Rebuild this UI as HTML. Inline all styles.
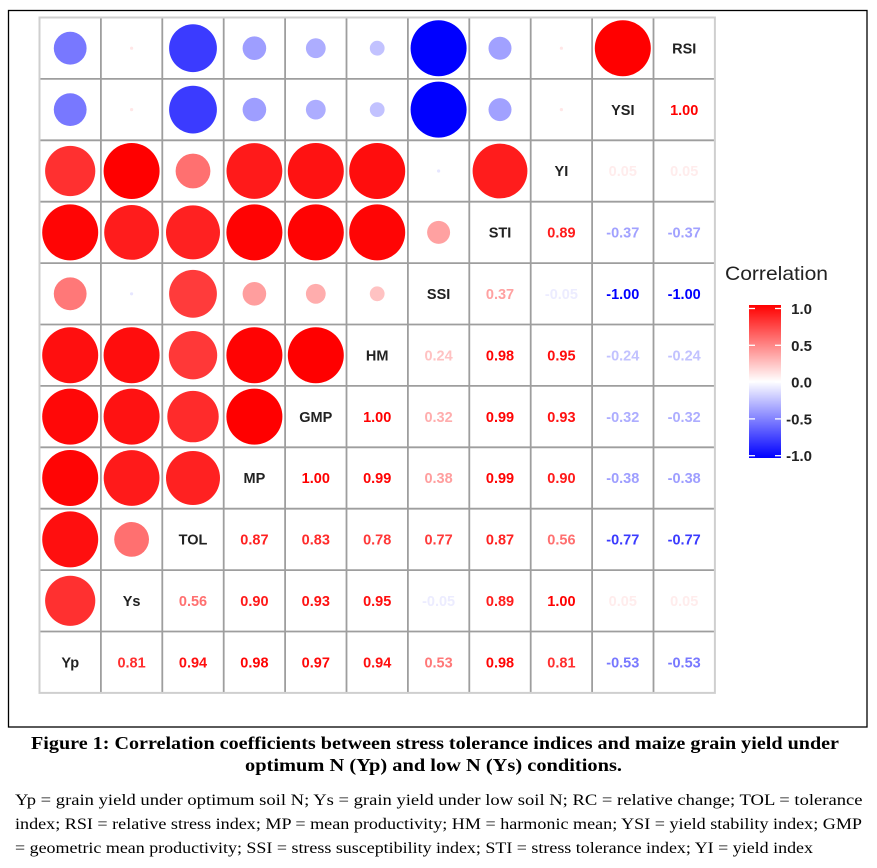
<!DOCTYPE html>
<html><head><meta charset="utf-8"><style>
html,body{margin:0;padding:0;background:#fff;}
svg{display:block;}
.n{font-family:"Liberation Sans",Arial,sans-serif;font-size:14.5px;font-weight:bold;text-anchor:middle;}
.l{font-family:"Liberation Sans",Arial,sans-serif;font-size:14.5px;font-weight:bold;text-anchor:middle;fill:#222;}
.t{font-family:"Liberation Sans",Arial,sans-serif;font-size:15px;font-weight:bold;text-anchor:end;fill:#222;}
.cap{font-family:"Liberation Serif","Times New Roman",serif;font-size:18px;font-weight:bold;fill:#000;}
.body{font-family:"Liberation Serif","Times New Roman",serif;font-size:16px;fill:#000;}
</style></head><body>
<svg width="877" height="868" viewBox="0 0 877 868" xmlns="http://www.w3.org/2000/svg">
<defs>
<linearGradient id="cb" x1="0" y1="0" x2="0" y2="1">
<stop offset="0" stop-color="#ff0000"/>
<stop offset="0.5" stop-color="#ffffff"/>
<stop offset="1" stop-color="#0000ff"/>
</linearGradient>
</defs>
<rect x="0" y="0" width="877" height="868" fill="#fff"/>
<rect x="8.5" y="10.5" width="858.5" height="716.5" fill="none" stroke="#000" stroke-width="1.3"/>

<!-- grid -->
<g stroke="#9e9e9e" stroke-width="1.8">
<line x1="100.9" y1="17.5" x2="100.9" y2="692.9"/>
<line x1="162.3" y1="17.5" x2="162.3" y2="692.9"/>
<line x1="223.7" y1="17.5" x2="223.7" y2="692.9"/>
<line x1="285.1" y1="17.5" x2="285.1" y2="692.9"/>
<line x1="346.5" y1="17.5" x2="346.5" y2="692.9"/>
<line x1="407.9" y1="17.5" x2="407.9" y2="692.9"/>
<line x1="469.3" y1="17.5" x2="469.3" y2="692.9"/>
<line x1="530.7" y1="17.5" x2="530.7" y2="692.9"/>
<line x1="592.1" y1="17.5" x2="592.1" y2="692.9"/>
<line x1="653.5" y1="17.5" x2="653.5" y2="692.9"/>
<line x1="39.5" y1="78.9" x2="714.9" y2="78.9"/>
<line x1="39.5" y1="140.3" x2="714.9" y2="140.3"/>
<line x1="39.5" y1="201.7" x2="714.9" y2="201.7"/>
<line x1="39.5" y1="263.1" x2="714.9" y2="263.1"/>
<line x1="39.5" y1="324.5" x2="714.9" y2="324.5"/>
<line x1="39.5" y1="385.9" x2="714.9" y2="385.9"/>
<line x1="39.5" y1="447.3" x2="714.9" y2="447.3"/>
<line x1="39.5" y1="508.7" x2="714.9" y2="508.7"/>
<line x1="39.5" y1="570.1" x2="714.9" y2="570.1"/>
<line x1="39.5" y1="631.5" x2="714.9" y2="631.5"/>
</g>
<rect x="39.5" y="17.5" width="675.4" height="675.4" fill="none" stroke="#cfcfcf" stroke-width="2"/>

<!-- circles -->
<circle cx="70.2" cy="600.8" r="25.1" fill="rgb(255,48,48)"/>
<circle cx="70.2" cy="539.4" r="28" fill="rgb(255,15,15)"/>
<circle cx="131.6" cy="539.4" r="17.4" fill="rgb(255,112,112)"/>
<circle cx="70.2" cy="478" r="28" fill="rgb(255,5,5)"/>
<circle cx="131.6" cy="478" r="27.9" fill="rgb(255,26,26)"/>
<circle cx="193" cy="478" r="27" fill="rgb(255,33,33)"/>
<circle cx="70.2" cy="416.6" r="28" fill="rgb(255,8,8)"/>
<circle cx="131.6" cy="416.6" r="28" fill="rgb(255,18,18)"/>
<circle cx="193" cy="416.6" r="25.7" fill="rgb(255,43,43)"/>
<circle cx="254.4" cy="416.6" r="28" fill="rgb(255,0,0)"/>
<circle cx="70.2" cy="355.2" r="28" fill="rgb(255,15,15)"/>
<circle cx="131.6" cy="355.2" r="28" fill="rgb(255,13,13)"/>
<circle cx="193" cy="355.2" r="24.2" fill="rgb(255,56,56)"/>
<circle cx="254.4" cy="355.2" r="28" fill="rgb(255,3,3)"/>
<circle cx="315.8" cy="355.2" r="28" fill="rgb(255,0,0)"/>
<circle cx="70.2" cy="293.8" r="16.4" fill="rgb(255,120,120)"/>
<circle cx="131.6" cy="293.8" r="1.6" fill="rgb(230,230,255)"/>
<circle cx="193" cy="293.8" r="23.9" fill="rgb(255,59,59)"/>
<circle cx="254.4" cy="293.8" r="11.8" fill="rgb(255,158,158)"/>
<circle cx="315.8" cy="293.8" r="9.9" fill="rgb(255,173,173)"/>
<circle cx="377.2" cy="293.8" r="7.4" fill="rgb(255,194,194)"/>
<circle cx="70.2" cy="232.4" r="28" fill="rgb(255,5,5)"/>
<circle cx="131.6" cy="232.4" r="27.4" fill="rgb(255,28,28)"/>
<circle cx="193" cy="232.4" r="27" fill="rgb(255,33,33)"/>
<circle cx="254.4" cy="232.4" r="28" fill="rgb(255,3,3)"/>
<circle cx="315.8" cy="232.4" r="28" fill="rgb(255,3,3)"/>
<circle cx="377.2" cy="232.4" r="28" fill="rgb(255,5,5)"/>
<circle cx="438.6" cy="232.4" r="11.5" fill="rgb(255,161,161)"/>
<circle cx="70.2" cy="171" r="25.1" fill="rgb(255,48,48)"/>
<circle cx="131.6" cy="171" r="28" fill="rgb(255,0,0)"/>
<circle cx="193" cy="171" r="17.4" fill="rgb(255,112,112)"/>
<circle cx="254.4" cy="171" r="27.9" fill="rgb(255,26,26)"/>
<circle cx="315.8" cy="171" r="28" fill="rgb(255,18,18)"/>
<circle cx="377.2" cy="171" r="28" fill="rgb(255,13,13)"/>
<circle cx="438.6" cy="171" r="1.6" fill="rgb(230,230,255)"/>
<circle cx="500" cy="171" r="27.4" fill="rgb(255,28,28)"/>
<circle cx="70.2" cy="109.6" r="16.4" fill="rgb(120,120,255)"/>
<circle cx="131.6" cy="109.6" r="1.6" fill="rgb(255,230,230)"/>
<circle cx="193" cy="109.6" r="23.9" fill="rgb(59,59,255)"/>
<circle cx="254.4" cy="109.6" r="11.8" fill="rgb(158,158,255)"/>
<circle cx="315.8" cy="109.6" r="9.9" fill="rgb(173,173,255)"/>
<circle cx="377.2" cy="109.6" r="7.4" fill="rgb(194,194,255)"/>
<circle cx="438.6" cy="109.6" r="28" fill="rgb(0,0,255)"/>
<circle cx="500" cy="109.6" r="11.5" fill="rgb(161,161,255)"/>
<circle cx="561.4" cy="109.6" r="1.6" fill="rgb(255,230,230)"/>
<circle cx="70.2" cy="48.2" r="16.4" fill="rgb(120,120,255)"/>
<circle cx="131.6" cy="48.2" r="1.6" fill="rgb(255,230,230)"/>
<circle cx="193" cy="48.2" r="23.9" fill="rgb(59,59,255)"/>
<circle cx="254.4" cy="48.2" r="11.8" fill="rgb(158,158,255)"/>
<circle cx="315.8" cy="48.2" r="9.9" fill="rgb(173,173,255)"/>
<circle cx="377.2" cy="48.2" r="7.4" fill="rgb(194,194,255)"/>
<circle cx="438.6" cy="48.2" r="28" fill="rgb(0,0,255)"/>
<circle cx="500" cy="48.2" r="11.5" fill="rgb(161,161,255)"/>
<circle cx="561.4" cy="48.2" r="1.6" fill="rgb(255,230,230)"/>
<circle cx="622.8" cy="48.2" r="28" fill="rgb(255,0,0)"/>

<!-- diagonal labels -->
<text class="l" x="70.2" y="667.4">Yp</text>
<text class="l" x="131.6" y="606">Ys</text>
<text class="l" x="193" y="544.6">TOL</text>
<text class="l" x="254.4" y="483.2">MP</text>
<text class="l" x="315.8" y="421.8">GMP</text>
<text class="l" x="377.2" y="360.4">HM</text>
<text class="l" x="438.6" y="299">SSI</text>
<text class="l" x="500" y="237.6">STI</text>
<text class="l" x="561.4" y="176.2">YI</text>
<text class="l" x="622.8" y="114.8">YSI</text>
<text class="l" x="684.2" y="53.4">RSI</text>

<!-- numbers -->
<text class="n" x="131.6" y="667.4" fill="rgb(255,48,48)">0.81</text>
<text class="n" x="193" y="667.4" fill="rgb(255,15,15)">0.94</text>
<text class="n" x="254.4" y="667.4" fill="rgb(255,5,5)">0.98</text>
<text class="n" x="315.8" y="667.4" fill="rgb(255,8,8)">0.97</text>
<text class="n" x="377.2" y="667.4" fill="rgb(255,15,15)">0.94</text>
<text class="n" x="438.6" y="667.4" fill="rgb(255,120,120)">0.53</text>
<text class="n" x="500" y="667.4" fill="rgb(255,5,5)">0.98</text>
<text class="n" x="561.4" y="667.4" fill="rgb(255,48,48)">0.81</text>
<text class="n" x="622.8" y="667.4" fill="rgb(120,120,255)">-0.53</text>
<text class="n" x="684.2" y="667.4" fill="rgb(120,120,255)">-0.53</text>
<text class="n" x="193" y="606" fill="rgb(255,112,112)">0.56</text>
<text class="n" x="254.4" y="606" fill="rgb(255,26,26)">0.90</text>
<text class="n" x="315.8" y="606" fill="rgb(255,18,18)">0.93</text>
<text class="n" x="377.2" y="606" fill="rgb(255,13,13)">0.95</text>
<text class="n" x="438.6" y="606" fill="rgb(236,236,255)">-0.05</text>
<text class="n" x="500" y="606" fill="rgb(255,28,28)">0.89</text>
<text class="n" x="561.4" y="606" fill="rgb(255,0,0)">1.00</text>
<text class="n" x="622.8" y="606" fill="rgb(255,236,236)">0.05</text>
<text class="n" x="684.2" y="606" fill="rgb(255,236,236)">0.05</text>
<text class="n" x="254.4" y="544.6" fill="rgb(255,33,33)">0.87</text>
<text class="n" x="315.8" y="544.6" fill="rgb(255,43,43)">0.83</text>
<text class="n" x="377.2" y="544.6" fill="rgb(255,56,56)">0.78</text>
<text class="n" x="438.6" y="544.6" fill="rgb(255,59,59)">0.77</text>
<text class="n" x="500" y="544.6" fill="rgb(255,33,33)">0.87</text>
<text class="n" x="561.4" y="544.6" fill="rgb(255,112,112)">0.56</text>
<text class="n" x="622.8" y="544.6" fill="rgb(59,59,255)">-0.77</text>
<text class="n" x="684.2" y="544.6" fill="rgb(59,59,255)">-0.77</text>
<text class="n" x="315.8" y="483.2" fill="rgb(255,0,0)">1.00</text>
<text class="n" x="377.2" y="483.2" fill="rgb(255,3,3)">0.99</text>
<text class="n" x="438.6" y="483.2" fill="rgb(255,158,158)">0.38</text>
<text class="n" x="500" y="483.2" fill="rgb(255,3,3)">0.99</text>
<text class="n" x="561.4" y="483.2" fill="rgb(255,26,26)">0.90</text>
<text class="n" x="622.8" y="483.2" fill="rgb(158,158,255)">-0.38</text>
<text class="n" x="684.2" y="483.2" fill="rgb(158,158,255)">-0.38</text>
<text class="n" x="377.2" y="421.8" fill="rgb(255,0,0)">1.00</text>
<text class="n" x="438.6" y="421.8" fill="rgb(255,173,173)">0.32</text>
<text class="n" x="500" y="421.8" fill="rgb(255,3,3)">0.99</text>
<text class="n" x="561.4" y="421.8" fill="rgb(255,18,18)">0.93</text>
<text class="n" x="622.8" y="421.8" fill="rgb(173,173,255)">-0.32</text>
<text class="n" x="684.2" y="421.8" fill="rgb(173,173,255)">-0.32</text>
<text class="n" x="438.6" y="360.4" fill="rgb(255,194,194)">0.24</text>
<text class="n" x="500" y="360.4" fill="rgb(255,5,5)">0.98</text>
<text class="n" x="561.4" y="360.4" fill="rgb(255,13,13)">0.95</text>
<text class="n" x="622.8" y="360.4" fill="rgb(194,194,255)">-0.24</text>
<text class="n" x="684.2" y="360.4" fill="rgb(194,194,255)">-0.24</text>
<text class="n" x="500" y="299" fill="rgb(255,161,161)">0.37</text>
<text class="n" x="561.4" y="299" fill="rgb(236,236,255)">-0.05</text>
<text class="n" x="622.8" y="299" fill="rgb(0,0,255)">-1.00</text>
<text class="n" x="684.2" y="299" fill="rgb(0,0,255)">-1.00</text>
<text class="n" x="561.4" y="237.6" fill="rgb(255,28,28)">0.89</text>
<text class="n" x="622.8" y="237.6" fill="rgb(161,161,255)">-0.37</text>
<text class="n" x="684.2" y="237.6" fill="rgb(161,161,255)">-0.37</text>
<text class="n" x="622.8" y="176.2" fill="rgb(255,236,236)">0.05</text>
<text class="n" x="684.2" y="176.2" fill="rgb(255,236,236)">0.05</text>
<text class="n" x="684.2" y="114.8" fill="rgb(255,0,0)">1.00</text>

<!-- legend -->
<text x="725" y="280" font-family="Liberation Sans, Arial, sans-serif" font-size="19.5" fill="#222" textLength="103" lengthAdjust="spacingAndGlyphs">Correlation</text>
<rect x="749" y="305" width="32" height="153" fill="url(#cb)"/>
<g stroke="#fff" stroke-width="1.3">
<line x1="749" y1="308.5" x2="755" y2="308.5"/><line x1="775" y1="308.5" x2="781" y2="308.5"/>
<line x1="749" y1="345.3" x2="755" y2="345.3"/><line x1="775" y1="345.3" x2="781" y2="345.3"/>
<line x1="749" y1="382.1" x2="755" y2="382.1"/><line x1="775" y1="382.1" x2="781" y2="382.1"/>
<line x1="749" y1="418.9" x2="755" y2="418.9"/><line x1="775" y1="418.9" x2="781" y2="418.9"/>
<line x1="749" y1="455.7" x2="755" y2="455.7"/><line x1="775" y1="455.7" x2="781" y2="455.7"/>
</g>
<text class="t" x="812" y="314">1.0</text>
<text class="t" x="812" y="350.8">0.5</text>
<text class="t" x="812" y="387.6">0.0</text>
<text class="t" x="812" y="424.4">-0.5</text>
<text class="t" x="812" y="461.2">-1.0</text>

<!-- caption -->
<text class="cap" x="31" y="749" textLength="808" lengthAdjust="spacingAndGlyphs">Figure 1: Correlation coefficients between stress tolerance indices and maize grain yield under</text>
<text class="cap" x="245" y="771" textLength="377" lengthAdjust="spacingAndGlyphs">optimum N (Yp) and low N (Ys) conditions.</text>

<text class="body" x="15" y="805" textLength="847.5" lengthAdjust="spacingAndGlyphs">Yp = grain yield under optimum soil N; Ys = grain yield under low soil N; RC = relative change; TOL = tolerance</text>
<text class="body" x="15" y="829" textLength="847" lengthAdjust="spacingAndGlyphs">index; RSI = relative stress index; MP = mean productivity; HM = harmonic mean; YSI = yield stability index; GMP</text>
<text class="body" x="15" y="853" textLength="798" lengthAdjust="spacingAndGlyphs">= geometric mean productivity; SSI = stress susceptibility index; STI = stress tolerance index; YI = yield index</text>
</svg>
</body></html>
